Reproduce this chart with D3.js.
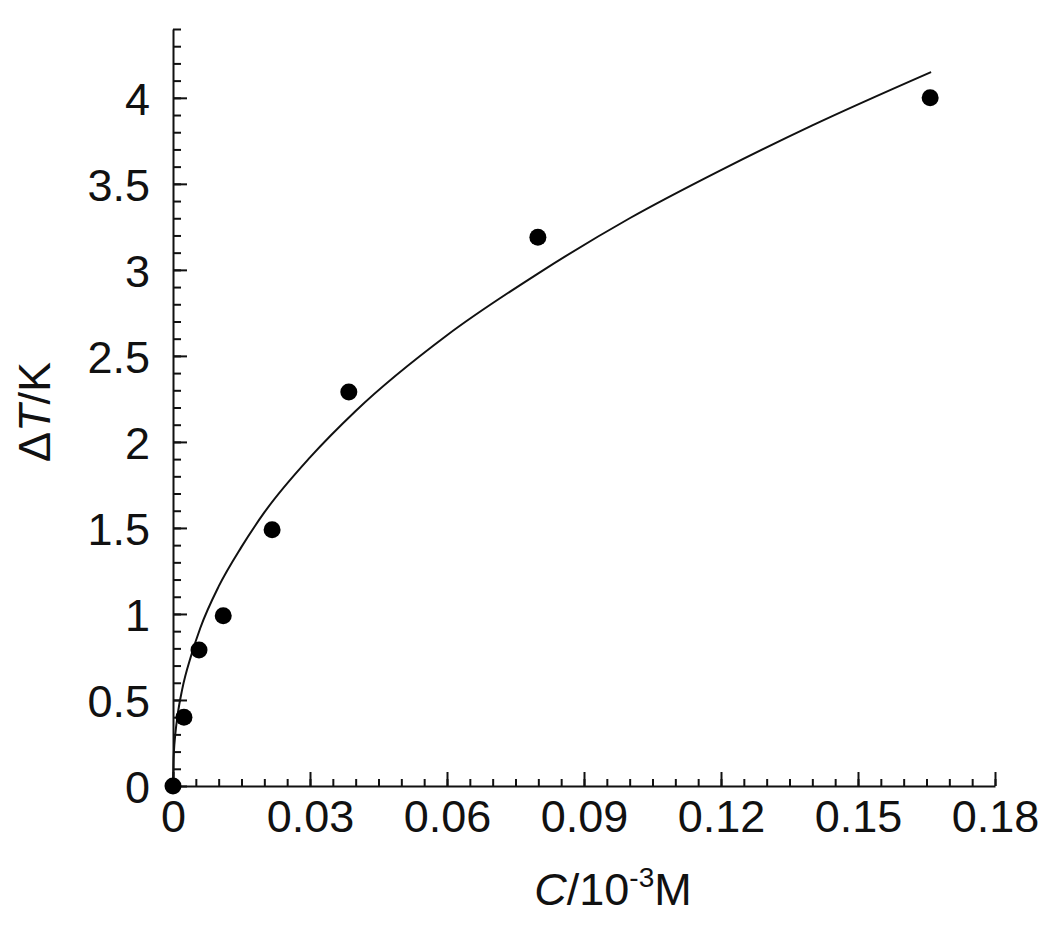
<!DOCTYPE html>
<html><head><meta charset="utf-8">
<script src="https://cdn.jsdelivr.net/npm/d3@7"></script>
<style>body{margin:0;background:#fff}svg{display:block}text{font-family:"Liberation Sans",Arial,sans-serif;fill:#111}</style>
</head><body>
<script>
// measured points
const pointC = [0, 0.0024, 0.0057, 0.011, 0.0217, 0.0385, 0.0799, 0.1658];
const pointT = [0, 0.40, 0.79, 0.99, 1.49, 2.29, 3.19, 4.00];
// fitted curve
const curveC = [0, 0.0001, 0.0002, 0.0005, 0.001, 0.002, 0.004, 0.006, 0.01, 0.015, 0.02, 0.03, 0.04, 0.06, 0.08, 0.10, 0.12, 0.14, 0.166];
const curveT = [0, 0.14, 0.20, 0.30, 0.41, 0.56, 0.76, 0.92, 1.16, 1.39, 1.59, 1.91, 2.18, 2.62, 2.98, 3.30, 3.58, 3.84, 4.15];
const xMajor = [0, 0.03, 0.06, 0.09, 0.12, 0.15, 0.18];
const xMajorLabels = ["0", "0.03", "0.06", "0.09", "0.12", "0.15", "0.18"];
const yMajor = [0, 0.5, 1, 1.5, 2, 2.5, 3, 3.5, 4];
const yMajorLabels = ["0", "0.5", "1", "1.5", "2", "2.5", "3", "3.5", "4"];
const xMinor = d3.range(0, 37).map(i => i * 0.005);
const yMinor = d3.range(0, 45).map(i => i * 0.1);

const W = 1050, H = 932;
const svg = d3.select("body").append("svg").attr("width", W).attr("height", H);
const x = d3.scaleLinear().domain([0, 0.18]).range([173, 995]);
const y = d3.scaleLinear().domain([0, 4.4]).range([786, 29]);

// minor ticks
svg.append("g").attr("transform", "translate(0,786)")
  .call(d3.axisBottom(x).tickValues(xMinor).tickSize(-7).tickSizeOuter(0).tickFormat(""))
  .call(g => g.select(".domain").remove());
svg.append("g").attr("transform", "translate(173,0)")
  .call(d3.axisLeft(y).tickValues(yMinor).tickSize(-8).tickSizeOuter(0).tickFormat(""))
  .call(g => g.select(".domain").remove());

// major axes
const xa = svg.append("g").attr("transform", "translate(0,786)")
  .call(d3.axisBottom(x).tickValues(xMajor).tickSize(-14).tickSizeOuter(0).tickPadding(14)
    .tickFormat((d, i) => xMajorLabels[i]));
const ya = svg.append("g").attr("transform", "translate(173,0)")
  .call(d3.axisLeft(y).tickValues(yMajor).tickSize(-14).tickSizeOuter(0).tickPadding(23)
    .tickFormat((d, i) => yMajorLabels[i]));
[xa, ya].forEach(g => {
  g.selectAll("line, .domain").attr("stroke", "#111").attr("stroke-width", 2);
  g.selectAll("text").attr("font-size", 45).attr("fill", "#111")
    .style("font-family", '"Liberation Sans", Arial, sans-serif');
});
svg.selectAll("g line").attr("stroke", "#111").attr("stroke-width", 2);
xa.selectAll("text").attr("dy", "0.71em").attr("y", 14);
ya.selectAll("text").attr("dy", "0.36em");

// curve
const cdata = curveC.map((c, i) => [c, curveT[i]]);
svg.append("path").datum(cdata)
  .attr("fill", "none").attr("stroke", "#111").attr("stroke-width", 2)
  .attr("d", d3.line().x(d => x(d[0])).y(d => y(d[1])).curve(d3.curveMonotoneX));

// points
svg.append("g").selectAll("circle").data(pointC.map((c, i) => [c, pointT[i]]))
  .join("circle").attr("cx", d => x(d[0])).attr("cy", d => y(d[1])).attr("r", 8.5).attr("fill", "#000");

// titles
const xt = svg.append("text").attr("x", 613).attr("y", 905).attr("text-anchor", "middle").attr("font-size", 45);
xt.append("tspan").attr("font-style", "italic").text("C");
xt.append("tspan").text("/10");
xt.append("tspan").attr("font-size", 28).attr("dy", -18).text("-3");
xt.append("tspan").attr("dy", 18).text("M");

const yt = svg.append("text").attr("transform", "translate(50,412) rotate(-90)").attr("text-anchor", "middle").attr("font-size", 45);
yt.append("tspan").text("Δ");
yt.append("tspan").attr("font-style", "italic").text("T");
yt.append("tspan").text("/K");
</script>
</body></html>
